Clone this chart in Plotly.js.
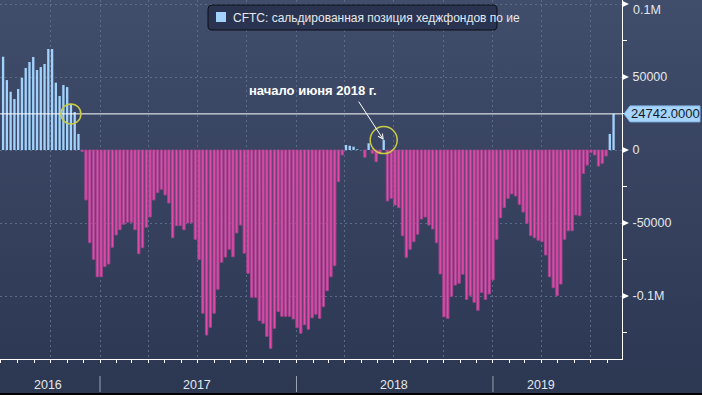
<!DOCTYPE html>
<html>
<head>
<meta charset="utf-8">
<script src="https://cdn.plot.ly/plotly-3.0.1.min.js"></script>
<style>
  html, body { margin: 0; padding: 0; background: #000; }
  #chart { width: 702px; height: 393px; background: linear-gradient(#404d6b, #2c3752); }
</style>
</head>
<body>
<div id="chart"></div>
<script>
// ---- data ----
const seriesName = 'CFTC: сальдированная позиция хеджфондов по ие';
const firstReport = '2016-07-05';           // weekly CFTC report dates (Tuesdays)
const netPosition = [
  63900, 47900, 39900, 34900, 41800, 49500, 56200, 60300, 63700, 54800,
  56800, 58900, 69200, 69200, 46100, 37000, 44500, 43100, 31500, 26000,
  11000, -1000, -34200, -63500, -74900, -86800, -86800, -79900, -78100, -66600,
  -58200, -54600, -50900, -49500, -49500, -54600, -71000, -66900, -52900, -45900,
  -34200, -29200, -26900, -30800, -36300, -60100, -51800, -51800, -54600, -50000,
  -49800, -61200, -74900, -111800, -126700, -121400, -111800, -95400, -76900, -73300,
  -68000, -73100, -56800, -51400, -70700, -84400, -100900, -100900, -116900, -118700,
  -127600, -135800, -122100, -110700, -113900, -113900, -113900, -115700, -121700, -125500,
  -119700, -122800, -114900, -112500, -115300, -107300, -96400, -86800, -79200, -21700,
  -3400, 3400, 2900, 2300, 500, 0, -5000, 4600, -2300, -8000,
  -2300, 6800, -34900, -33100, -37700, -39500, -58700, -73500, -68000, -62800,
  -57700, -47300, -45900, -51400, -54100, -63500, -84900, -114200, -115300, -100200,
  -92500, -91300, -85100, -102300, -99800, -104300, -109800, -97500, -102300, -98600,
  -89000, -61200, -46400, -39500, -33100, -30100, -31500, -37200, -42500, -50200,
  -58700, -60100, -61800, -62800, -71900, -86800, -94300, -99800, -91800, -61200,
  -55300, -55300, -44500, -45000, -16000, -10300, -1800, -3400, -11000, -9100,
  -4100, 11000, 24742
];
const lastValue = 24742;
const lastLabel = '24742.0000';
const yTickVals = [-100000, -50000, 0, 50000, 100000];
const yTickText = ['-0.1M', '-50000', '0', '50000', '0.1M'];
const yearLabels = ['2016', '2017', '2018', '2019'];
const yearLabelDates = ['2016-09-26', '2017-07-01', '2018-07-02', '2019-04-01'];
const yearStarts = ['2017-01-01', '2018-01-01', '2019-01-01'];
const noteText = 'начало июня 2018 г.';
const noteIndex = 101;     // early June 2018 bar
const crossIndex = 18;     // bar where 2016 position crossed current level

// ---- build weekly dates ----
const DAY = 86400000;
const t0 = Date.parse(firstReport + 'T00:00:00Z');
const dates = netPosition.map((_, i) => new Date(t0 + i * 7 * DAY).toISOString().slice(0, 10));

// ---- geometry ----
const W = 702, H = 393, ML = 0, MR = 80, MT = 0, MB = 34;
const plotW = W - ML - MR, plotH = H - MT - MB;
const yTop = 102740, yBot = -143140;
const unitsPerPx = (yTop - yBot) / plotH;
const xRange = ['2016-06-29 06:00', '2019-08-28 16:00'];
const px = p => (p - ML) / plotW;            // pixel -> paper x
const py = p => 1 - (p - MT) / plotH;        // pixel -> paper y

const pink = '#e34cab', pinkEdge = '#a5438f', blue = '#a2d2fb';
const colors = netPosition.map(v => v >= 0 ? blue : pink);
const lineColors = netPosition.map(v => v >= 0 ? blue : pinkEdge);
const lineWidths = netPosition.map(v => v >= 0 ? 0 : 1);

const trace = {
  type: 'bar', x: dates, y: netPosition, name: seriesName,
  width: 0.62 * 7 * DAY,
  marker: { color: colors, line: { color: lineColors, width: lineWidths } },
  showlegend: false, hoverinfo: 'x+y'
};

const font = 'Liberation Sans, Arial, sans-serif';
const gridColor = '#5b6c8a';

function roundRect(x0, y0, x1, y1, r) {
  const X = v => px(v).toFixed(5), Y = v => py(v).toFixed(5);
  return `M${X(x0 + r)},${Y(y0)} L${X(x1 - r)},${Y(y0)} Q${X(x1)},${Y(y0)} ${X(x1)},${Y(y0 + r)} ` +
         `L${X(x1)},${Y(y1 - r)} Q${X(x1)},${Y(y1)} ${X(x1 - r)},${Y(y1)} L${X(x0 + r)},${Y(y1)} ` +
         `Q${X(x0)},${Y(y1)} ${X(x0)},${Y(y1 - r)} L${X(x0)},${Y(y0 + r)} Q${X(x0)},${Y(y0)} ${X(x0 + r)},${Y(y0)} Z`;
}

const shapes = [];
// current level line
shapes.push({ type: 'line', xref: 'paper', yref: 'y', x0: 0, x1: 1, y0: lastValue, y1: lastValue,
  line: { color: '#ffffff', width: 1 } });
// value label pointer box
const h8 = 8 * unitsPerPx;
shapes.push({ type: 'path', xref: 'paper', yref: 'y',
  path: `M${px(624)},${lastValue} L${px(630)},${lastValue + h8} L${px(700)},${lastValue + h8} L${px(700)},${lastValue - h8} L${px(630)},${lastValue - h8} Z`,
  fillcolor: '#a6d4fb', line: { color: '#7fb6e6', width: 1 } });
// tick triangles
const h3 = 3.2 * unitsPerPx;
yTickVals.forEach(v => shapes.push({ type: 'path', xref: 'paper', yref: 'y',
  path: `M1,${v + h3} L${px(629)},${v} L1,${v - h3} Z`, fillcolor: '#ffffff', line: { width: 0 } }));
// highlight circles
shapes.push({ type: 'circle', xref: 'x', yref: 'y', xsizemode: 'pixel', ysizemode: 'pixel',
  xanchor: dates[crossIndex], yanchor: lastValue, x0: -10, x1: 10, y0: -10, y1: 10,
  line: { color: '#c9cc45', width: 1.5 } });
shapes.push({ type: 'circle', xref: 'x', yref: 'y', xsizemode: 'pixel', ysizemode: 'pixel',
  xanchor: dates[noteIndex], yanchor: netPosition[noteIndex], x0: -13.5, x1: 13.5, y0: -13.5, y1: 13.5,
  line: { color: '#c9cc45', width: 1.5 } });
// year separators
yearStarts.forEach(d => shapes.push({ type: 'line', xref: 'x', yref: 'paper', x0: d, x1: d,
  y0: py(376), y1: py(392), line: { color: '#9aa3b5', width: 1 } }));
// legend box
shapes.push({ type: 'path', xref: 'paper', yref: 'paper', path: roundRect(208, 5, 497, 30, 4),
  fillcolor: '#2a3450', line: { color: '#0c0f16', width: 1 } });
shapes.push({ type: 'rect', xref: 'paper', yref: 'paper', x0: px(216), x1: px(226), y0: py(12), y1: py(22),
  fillcolor: blue, line: { width: 0 } });

const tickFont = { family: font, size: 12.5, color: '#e4e7ec' };
const annotations = [];
annotations.push({ xref: 'paper', yref: 'paper', x: px(231), y: py(17.5), xanchor: 'left', yanchor: 'middle',
  text: seriesName, showarrow: false, font: { family: font, size: 12, color: '#e6e9ee' } });
annotations.push({ xref: 'paper', yref: 'y', x: px(665), y: lastValue, xanchor: 'center', yanchor: 'middle',
  text: lastLabel, showarrow: false, font: { family: font, size: 13, color: '#141a28' } });
annotations.push({ xref: 'paper', yref: 'y', x: px(247), y: (150 - 90.5) * unitsPerPx, xanchor: 'left', yanchor: 'middle',
  text: '<b>' + noteText + '</b>', showarrow: false, font: { family: font, size: 13, color: '#ffffff' } });
annotations.push({ xref: 'x', yref: 'y', x: dates[noteIndex], y: netPosition[noteIndex], text: '',
  showarrow: true, ax: -26, ay: -40, arrowcolor: '#ffffff', arrowwidth: 1, arrowhead: 5, arrowsize: 1, standoff: 0 });
yearLabels.forEach((t, i) => annotations.push({ xref: 'x', yref: 'paper', x: yearLabelDates[i], y: py(385),
  xanchor: 'center', yanchor: 'middle', text: t, showarrow: false, font: { family: font, size: 12.5, color: '#e4e7ec' } }));
// top tick label sits lower than its tick (kept inside the frame)
const topIdx = yTickVals.length - 1;
annotations.push({ xref: 'paper', yref: 'paper', x: px(631), y: py(9.5), xanchor: 'left', yanchor: 'middle',
  text: yTickText[topIdx], showarrow: false, font: tickFont });
const axisTickText = yTickText.map((t, i) => i === topIdx ? '' : t);

const layout = {
  width: W, height: H,
  margin: { l: ML, r: MR, t: MT, b: MB, pad: 0 },
  paper_bgcolor: 'rgba(0,0,0,0)', plot_bgcolor: 'rgba(0,0,0,0)',
  font: { family: font, color: '#e4e7ec', size: 12.5 },
  bargap: 0, showlegend: false,
  xaxis: {
    type: 'date', range: xRange, fixedrange: true,
    showgrid: true, gridcolor: gridColor, gridwidth: 1, griddash: '2px,3px',
    dtick: 'M3', tick0: '2016-01-01', ticks: 'outside', ticklen: 3, tickcolor: '#ffffff',
    showticklabels: false, showline: true, linecolor: '#ffffff', linewidth: 1, zeroline: false,
    minor: { dtick: 'M1', tick0: '2016-01-01', ticks: 'outside', ticklen: 3, tickcolor: '#ffffff', showgrid: false }
  },
  yaxis: {
    side: 'right', range: [yBot, yTop], fixedrange: true,
    tickmode: 'array', tickvals: yTickVals, ticktext: axisTickText,
    ticks: 'outside', ticklen: 7, tickcolor: 'rgba(0,0,0,0)',
    showgrid: true, gridcolor: gridColor, gridwidth: 1, griddash: '2px,3px',
    showline: true, linecolor: '#ffffff', linewidth: 1, zeroline: false,
    tickfont: tickFont,
    minor: { tickmode: 'linear', tick0: 0, dtick: 25000, ticks: 'outside', ticklen: 4, tickcolor: '#ffffff', showgrid: false }
  },
  shapes: shapes,
  annotations: annotations
};

Plotly.newPlot('chart', [trace], layout, { displayModeBar: false, staticPlot: true });
</script>
</body>
</html>
